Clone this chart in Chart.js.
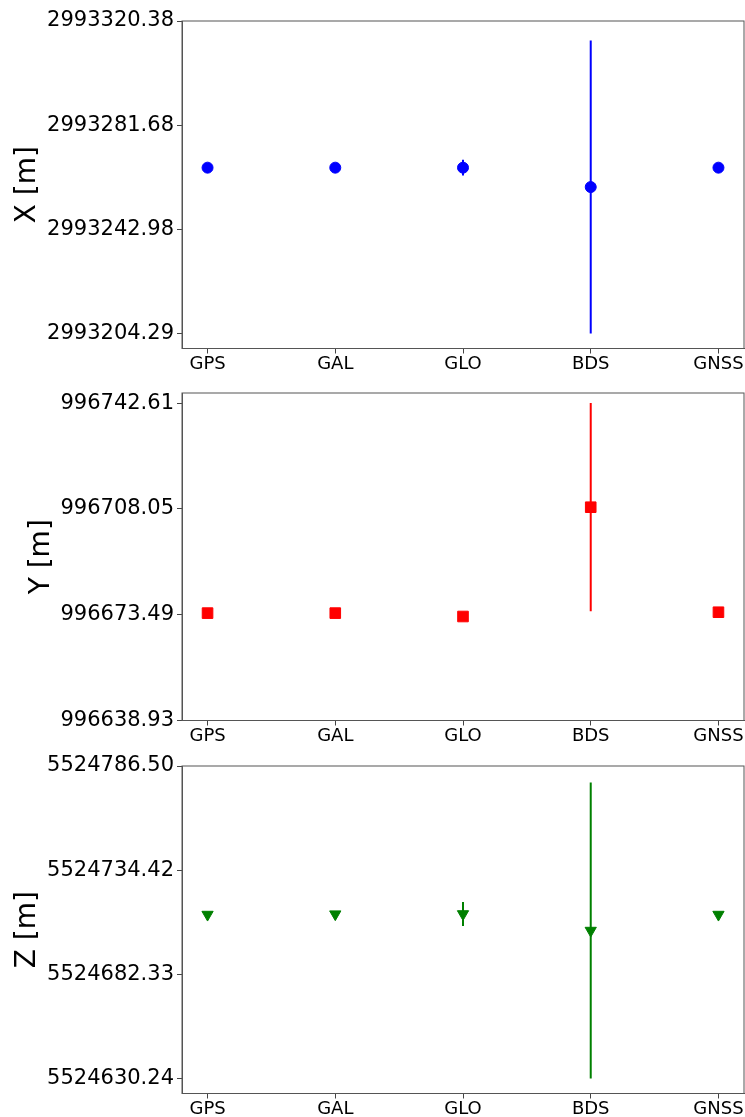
<!DOCTYPE html>
<html>
<head>
<meta charset="utf-8">
<script src="https://cdn.jsdelivr.net/npm/chart.js@4.4.1/dist/chart.umd.min.js"></script>
<style>
  html, body { margin: 0; padding: 0; background: #fff; }
  .panel { position: absolute; left: 0; width: 745px; height: 372px; }
</style>
</head>
<body>
<div class="panel" style="top:0px"><canvas id="chartX" width="745" height="372"></canvas></div>
<div class="panel" style="top:372px"><canvas id="chartY" width="745" height="372"></canvas></div>
<div class="panel" style="top:745px"><canvas id="chartZ" width="745" height="372"></canvas></div>
<script>
const categories = ['GPS', 'GAL', 'GLO', 'BDS', 'GNSS'];

// X component
const xValues = [2993265.9, 2993265.9, 2993265.9, 2993258.7, 2993265.9];
const xErrors = [0.6, 0.6, 2.9, 54.4, 0.6];
const xTicks = [2993204.29, 2993242.98, 2993281.68, 2993320.38];
const xRange = [2993198.73, 2993320.38];

// Y component
const yValues = [996674.0, 996674.0, 996672.9, 996708.6, 996674.3];
const yErrors = [0.5, 0.5, 1.0, 34.0, 0.5];
const yTicks = [996638.93, 996673.49, 996708.05, 996742.61];
const yRange = [996638.93, 996745.9];

// Z component
const zValues = [5524712.2, 5524712.4, 5524712.5, 5524704.2, 5524712.2];
const zErrors = [0.8, 0.8, 6.0, 74.0, 0.8];
const zTicks = [5524630.24, 5524682.33, 5524734.42, 5524786.50];
const zRange = [5524622.7, 5524786.5];

Chart.defaults.font.family = "'DejaVu Sans', sans-serif";
Chart.defaults.color = '#000';

// marco em volta da área do gráfico (como o matplotlib)
const frame = {
  id: 'frame',
  afterDraw(chart) {
    const { ctx, chartArea: a } = chart;
    ctx.save();
    ctx.strokeStyle = '#555';
    ctx.lineWidth = 1;
    ctx.strokeRect(a.left, a.top, a.right - a.left, a.bottom - a.top);
    ctx.restore();
  }
};

function makePanel(id, values, errors, ticks, range, style) {
  const points = values.map((v, i) => ({ x: i, y: v }));

  // uma linha vertical por barra de erro
  const errorBars = values.map((v, i) => ({
    data: [{ x: i, y: v - errors[i] }, { x: i, y: v + errors[i] }],
    showLine: true,
    borderColor: style.color,
    borderWidth: 2,
    pointRadius: 0,
    order: 1
  }));

  return new Chart(document.getElementById(id), {
    type: 'scatter',
    data: {
      datasets: [{
        data: points,
        pointStyle: style.pointStyle,
        pointRadius: style.radius,
        pointRotation: style.rotation,
        backgroundColor: style.color,
        borderColor: style.color,
        borderWidth: 1,
        order: 0
      }, ...errorBars]
    },
    options: {
      responsive: false,
      animation: false,
      events: [],
      layout: { autoPadding: false, padding: { top: 21, right: 1, left: 0, bottom: 0 } },
      plugins: { legend: { display: false }, tooltip: { enabled: false } },
      scales: {
        x: {
          type: 'linear',
          min: -0.2,
          max: 4.2,
          afterBuildTicks: s => { s.ticks = categories.map((c, i) => ({ value: i })); },
          afterFit: s => { s.height = 23.5; s.paddingLeft = 0; s.paddingRight = 0; },
          grid: { display: true, drawOnChartArea: false, drawTicks: true, tickLength: 5, color: '#444' },
          border: { display: true, color: '#555' },
          ticks: {
            padding: 0,
            maxRotation: 0,
            autoSkip: false,
            font: { size: 18 },
            callback: v => categories[v]
          }
        },
        y: {
          type: 'linear',
          min: range[0],
          max: range[1],
          afterBuildTicks: s => { s.ticks = ticks.map(v => ({ value: v })); },
          afterFit: s => { s.width = 182; s.paddingTop = 0; s.paddingBottom = 0; },
          grid: { display: true, drawOnChartArea: false, drawTicks: true, tickLength: 5, color: '#444' },
          border: { display: true, color: '#555' },
          ticks: {
            padding: 3,
            autoSkip: false,
            font: { size: 21 },
            callback: v => v.toFixed(2)
          },
          title: {
            display: true,
            text: style.title,
            font: { size: 28 },
            padding: { top: style.titlePad, bottom: 0 }
          }
        }
      }
    },
    plugins: [frame]
  });
}

makePanel('chartX', xValues, xErrors, xTicks, xRange,
  { color: '#0000ff', pointStyle: 'circle', radius: 5.5, rotation: 0, title: 'X [m]', titlePad: 11 });
makePanel('chartY', yValues, yErrors, yTicks, yRange,
  { color: '#ff0000', pointStyle: 'rect', radius: 7.5, rotation: 0, title: 'Y [m]', titlePad: 25 });
makePanel('chartZ', zValues, zErrors, zTicks, zRange,
  { color: '#008000', pointStyle: 'triangle', radius: 6.5, rotation: 180, title: 'Z [m]', titlePad: 11 });
</script>
</body>
</html>
